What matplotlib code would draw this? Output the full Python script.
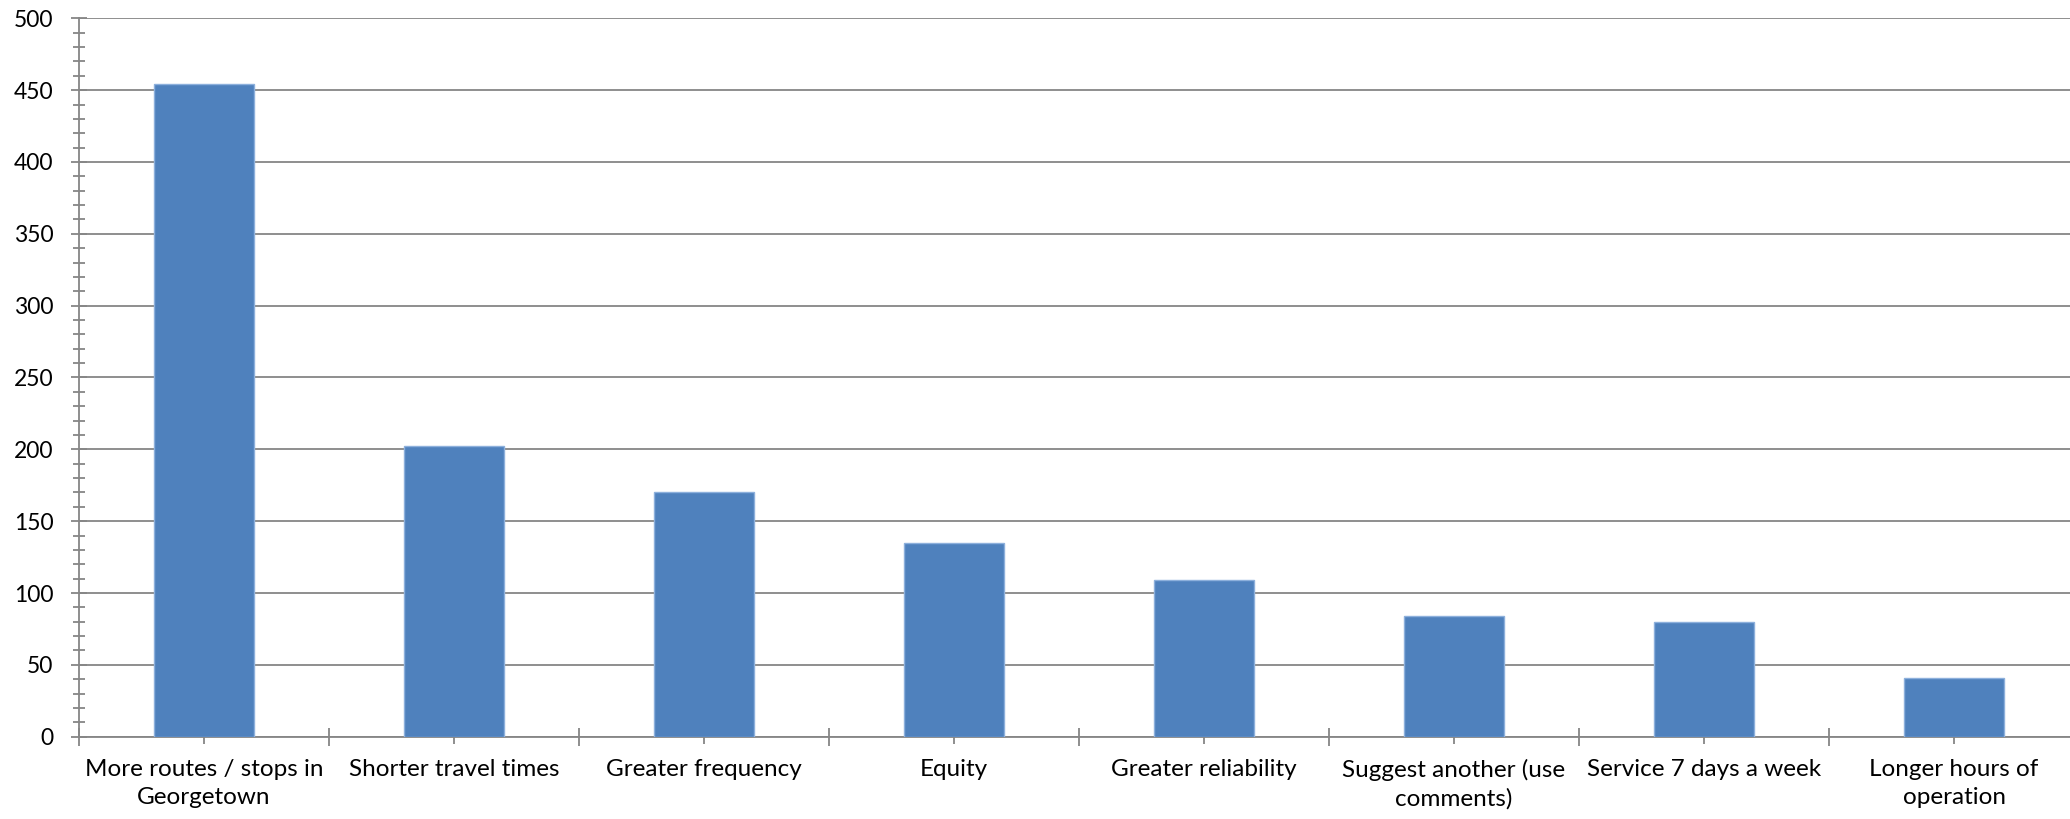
import matplotlib
matplotlib.use("Agg")
import matplotlib.pyplot as plt
import numpy as np

categories = ["More routes / stops in\nGeorgetown", "Shorter travel times", "Greater frequency",
              "Equity", "Greater reliability", "Suggest another (use\ncomments)",
              "Service 7 days a week", "Longer hours of\noperation"]
values = [454, 202, 170, 135, 109, 84, 80, 41]
y_ticks = [0, 50, 100, 150, 200, 250, 300, 350, 400, 450, 500]

plt.rcParams['font.family'] = ['Lato', 'DejaVu Sans']

W, H = 2070, 819
fig = plt.figure(figsize=(W / 100, H / 100), dpi=100)
left, right, top, bottom = 79, 2079, 18.3, 736.7
ax = fig.add_axes([left / W, (H - bottom) / H, (right - left) / W, (bottom - top) / H])

x = np.arange(len(categories))
ax.bar(x, values, width=0.4, color='#4F81BD', edgecolor='#8DB0DC', linewidth=1, zorder=3)

ax.set_xlim(-0.5, len(categories) - 0.5)
ax.set_ylim(0, 500)
ax.set_yticks(y_ticks)
ax.set_yticks(np.arange(0, 501, 10), minor=True)
ax.yaxis.grid(True, which='major', color='#868686', linewidth=1.3, zorder=0)
ax.set_axisbelow(True)

ax.set_xticks(x)
ax.set_xticklabels(categories, fontsize=17.5, linespacing=1.4)
ax.set_xticks(np.arange(-0.5, len(categories) + 0.5, 1), minor=True)

gray = '#868686'
ax.tick_params(axis='x', which='major', direction='inout', length=10, width=1.3, color=gray, pad=11)
ax.tick_params(axis='x', which='minor', direction='inout', length=13, width=1.3, color=gray)
ax.tick_params(axis='y', which='major', direction='inout', length=11, width=1.3, color=gray, pad=13,
               labelsize=16.5)
ax.tick_params(axis='y', which='minor', direction='inout', length=9, width=1.3, color=gray)

for s in ['top', 'right']:
    ax.spines[s].set_visible(False)
for s in ['left', 'bottom']:
    ax.spines[s].set_color(gray)
    ax.spines[s].set_linewidth(1.3)

fig.savefig('out.png', dpi=100)
